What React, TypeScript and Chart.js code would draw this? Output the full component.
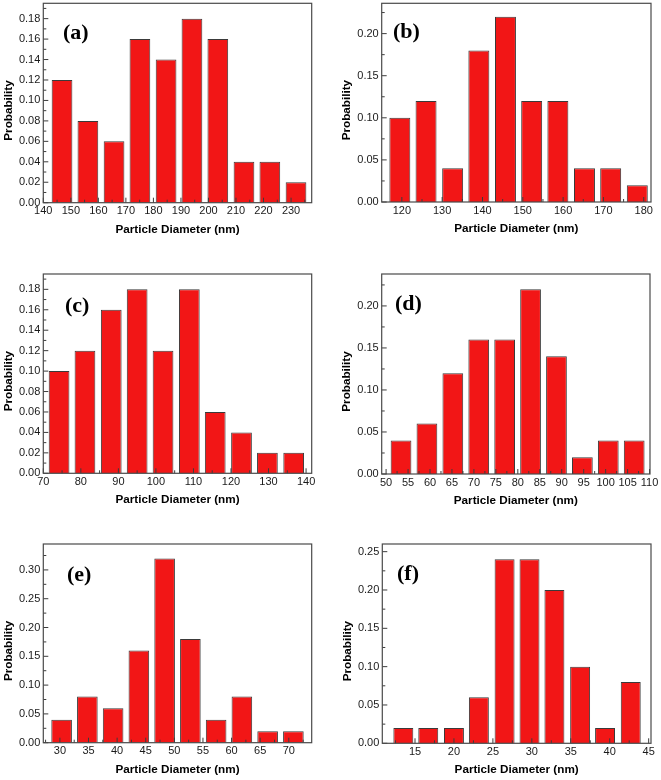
import React, { useEffect, useRef } from "react";
import { Chart, registerables } from "chart.js";

Chart.register(...registerables);

// ---------- data (bin centres in nm, probabilities) ----------
const aDiameters = [146.8, 156.2, 165.7, 175.1, 184.6, 194.0, 203.4, 212.9, 222.3, 231.8];
const aProb = [0.12, 0.08, 0.06, 0.16, 0.14, 0.18, 0.16, 0.04, 0.04, 0.02];

const bDiameters = [119.5, 126.0, 132.6, 139.1, 145.7, 152.2, 158.7, 165.3, 171.8, 178.4];
const bProb = [0.10, 0.12, 0.04, 0.18, 0.22, 0.12, 0.12, 0.04, 0.04, 0.02];

const cDiameters = [74.2, 81.1, 88.1, 95.0, 101.9, 108.9, 115.8, 122.8, 129.7, 136.7];
const cProb = [0.10, 0.12, 0.16, 0.18, 0.12, 0.18, 0.06, 0.04, 0.02, 0.02];

const dDiameters = [53.4, 59.3, 65.2, 71.1, 77.0, 82.9, 88.8, 94.7, 100.6, 106.5];
const dProb = [0.04, 0.06, 0.12, 0.16, 0.16, 0.22, 0.14, 0.02, 0.04, 0.04];

const eDiameters = [30.3, 34.8, 39.3, 43.8, 48.3, 52.8, 57.3, 61.8, 66.3, 70.8];
const eProb = [0.04, 0.08, 0.06, 0.16, 0.32, 0.18, 0.04, 0.08, 0.02, 0.02];

const fDiameters = [13.5, 16.7, 20.0, 23.2, 26.5, 29.7, 32.9, 36.2, 39.4, 42.7];
const fProb = [0.02, 0.02, 0.02, 0.06, 0.24, 0.24, 0.20, 0.10, 0.02, 0.08];

// axis ranges [min, max, step]
const aXAxis = [140, 237.5, 10];
const bXAxis = [115, 181.8, 10];
const cXAxis = [70, 141.5, 10];
const dXAxis = [49, 110.1, 5];
const eXAxis = [27.1, 74.0, 5];
const fXAxis = [10.8, 45.3, 5];

const aYAxis = [0, 0.195, 0.02];
const bYAxis = [0, 0.236, 0.05];
const cYAxis = [0, 0.195, 0.02];
const dYAxis = [0, 0.238, 0.05];
const eYAxis = [0, 0.345, 0.05];
const fYAxis = [0, 0.26, 0.05];

const panelLabels = ["(a)", "(b)", "(c)", "(d)", "(e)", "(f)"];
const xTitle = "Particle Diameter (nm)";
const yTitle = "Probability";

// ---------- layout (page pixels) ----------
type Frame = { L: number; R: number; T: number; B: number; lx: number; ly: number };
const frames: Frame[] = [
  { L: 43.3, R: 311.7, T: 3.3, B: 202.7, lx: 19.7, ly: 29.7 },
  { L: 381.7, R: 651, T: 3.3, B: 202, lx: 11.3, ly: 28.7 },
  { L: 43.3, R: 311.7, T: 274, B: 473.3, lx: 21.7, ly: 32 },
  { L: 381.7, R: 650, T: 274, B: 474, lx: 13.3, ly: 30 },
  { L: 43.3, R: 311.7, T: 544, B: 742.7, lx: 23.7, ly: 31 },
  { L: 382.3, R: 651, T: 544, B: 743.3, lx: 14.7, ly: 30 },
];

const panelData = [
  [aDiameters, aProb, aXAxis, aYAxis],
  [bDiameters, bProb, bXAxis, bYAxis],
  [cDiameters, cProb, cXAxis, cYAxis],
  [dDiameters, dProb, dXAxis, dYAxis],
  [eDiameters, eProb, eXAxis, eYAxis],
  [fDiameters, fProb, fXAxis, fYAxis],
] as number[][][];

const SANS = '"Liberation Sans", Arial, sans-serif';
const SERIF = '"Liberation Serif", "Times New Roman", serif';
const Y_AXIS_W = 44;
const X_AXIS_H = 36;
const Y_TITLE_DX = 35; // title centre left of the frame
const Y_TITLE_DY = 7.5; // title centre below the frame centre

// ticks at every multiple of step inside [min, max]
const stepTicks = (min: number, max: number, step: number) => {
  const out: { value: number }[] = [];
  for (let k = Math.ceil(min / step - 1e-9); k * step <= max + 1e-9; k++) {
    out.push({ value: Math.round(k * step * 1e6) / 1e6 });
  }
  return out;
};

const framePlugin = {
  id: "frameTicks",
  afterDatasetsDraw(chart: any, _args: any, opts: any) {
    const { ctx, chartArea: a } = chart;
    const xs = chart.scales.xt;
    const ys = chart.scales.y;
    ctx.save();
    ctx.strokeStyle = "#3c3c3c";
    ctx.lineWidth = 1;
    ctx.beginPath();
    for (const t of ys.ticks) {
      const p = ys.getPixelForValue(t.value);
      ctx.moveTo(a.left, p);
      ctx.lineTo(a.left + 5, p);
      const m = t.value + opts.yStep / 2;
      if (m < ys.max) {
        const pm = ys.getPixelForValue(m);
        ctx.moveTo(a.left, pm);
        ctx.lineTo(a.left + 3, pm);
      }
    }
    for (const t of xs.ticks) {
      const p = xs.getPixelForValue(t.value);
      ctx.moveTo(p, a.bottom);
      ctx.lineTo(p, a.bottom - 5);
    }
    const first = xs.ticks.length ? xs.ticks[0].value : xs.min;
    for (let m = first - opts.xStep / 2; m < xs.max; m += opts.xStep) {
      if (m <= xs.min) continue;
      const pm = xs.getPixelForValue(m);
      ctx.moveTo(pm, a.bottom);
      ctx.lineTo(pm, a.bottom - 3);
    }
    ctx.stroke();
    ctx.strokeStyle = "#4a4a4a";
    ctx.lineWidth = 1.2;
    ctx.strokeRect(a.left, a.top, a.right - a.left, a.bottom - a.top);
    // panel label
    ctx.fillStyle = "#000";
    ctx.font = `bold 22px ${SERIF}`;
    ctx.textAlign = "left";
    ctx.textBaseline = "middle";
    ctx.fillText(opts.label, a.left + opts.lx, a.top + opts.ly);
    // y-axis title
    ctx.translate(a.left - Y_TITLE_DX, (a.top + a.bottom) / 2 + Y_TITLE_DY);
    ctx.rotate(-Math.PI / 2);
    ctx.font = `bold 11.7px ${SANS}`;
    ctx.textAlign = "center";
    ctx.fillText(opts.yTitle, 0, 0);
    ctx.restore();
  },
};

function Panel({ idx }: { idx: number }) {
  const ref = useRef<HTMLCanvasElement | null>(null);
  const f = frames[idx];
  const cl = Math.floor(f.L - Y_AXIS_W);
  const ct = Math.floor(f.T - 10);
  const W = Math.ceil(f.R + 12) - cl;
  const H = Math.ceil(f.B + X_AXIS_H) - ct;
  const yW = f.L - cl;
  const padTop = f.T - ct;
  const padRight = cl + W - f.R;
  const padBottom = ct + H - f.B - X_AXIS_H;

  useEffect(() => {
    const [xs, ys, xAxis, yAxis] = panelData[idx];
    const [xMin, xMax, xStep] = xAxis;
    const [yMin, yMax, yStep] = yAxis;
    const chart = new Chart(ref.current as HTMLCanvasElement, {
      type: "bar",
      data: {
        datasets: [
          {
            data: xs.map((x, i) => ({ x, y: ys[i] })),
            xAxisID: "x",
            yAxisID: "y",
            backgroundColor: "rgb(242,22,22)",
            borderColor: "#3a3a3a",
            borderWidth: 1,
            barPercentage: 0.8,
            categoryPercentage: 1.0,
          },
        ],
      },
      options: {
        animation: false,
        responsive: false,
        devicePixelRatio: 1,
        layout: { padding: { top: padTop, right: padRight, bottom: padBottom, left: 0 } },
        plugins: {
          legend: { display: false },
          tooltip: { enabled: false },
          frameTicks: { label: panelLabels[idx], lx: f.lx, ly: f.ly, xStep, yStep, yTitle },
        } as any,
        scales: {
          x: {
            type: "linear",
            display: false,
            offset: false,
            grid: { offset: false },
            min: xMin,
            max: xMax,
            afterBuildTicks: (s: any) => {
              s.ticks = [{ value: xMin }, { value: xMax }];
            },
          },
          xt: {
            type: "linear",
            axis: "x",
            position: "bottom",
            offset: false,
            min: xMin,
            max: xMax,
            grid: { display: false, drawTicks: false, offset: false },
            border: { display: false },
            ticks: {
              padding: 2,
              maxRotation: 0,
              autoSkip: false,
              color: "#1a1a1a",
              font: { family: SANS, size: 11 },
              callback: (v: any) => String(Math.round(Number(v))),
            },
            afterBuildTicks: (s: any) => {
              s.ticks = stepTicks(xMin, xMax, xStep);
            },
            afterFit: (s: any) => {
              s.height = X_AXIS_H;
              s.paddingLeft = 0;
              s.paddingRight = 0;
            },
            title: {
              display: true,
              text: xTitle,
              color: "#000",
              font: { family: SANS, size: 11.7, weight: "bold" },
              padding: { top: 0, bottom: 2.4 },
            },
          } as any,
          y: {
            type: "linear",
            position: "left",
            min: yMin,
            max: yMax,
            grid: { display: false, drawTicks: false },
            border: { display: false },
            ticks: {
              padding: 3,
              autoSkip: false,
              color: "#1a1a1a",
              font: { family: SANS, size: 11 },
              callback: (v: any) => Number(v).toFixed(2),
            },
            afterBuildTicks: (s: any) => {
              s.ticks = stepTicks(yMin, yMax, yStep);
            },
            afterFit: (s: any) => {
              s.width = yW;
              s.paddingTop = 0;
              s.paddingBottom = 0;
            },
          },
        },
      },
      plugins: [framePlugin],
    } as any);
    return () => chart.destroy();
  }, [idx]);

  return (
    <canvas
      ref={ref}
      width={W}
      height={H}
      style={{ position: "absolute", left: cl, top: ct, width: W, height: H }}
    />
  );
}

export default function App() {
  return (
    <div
      style={{
        position: "fixed",
        left: 0,
        top: 0,
        width: 661,
        height: 780,
        background: "#fff",
        overflow: "hidden",
      }}
    >
      {frames.map((_, i) => (
        <Panel key={i} idx={i} />
      ))}
    </div>
  );
}
